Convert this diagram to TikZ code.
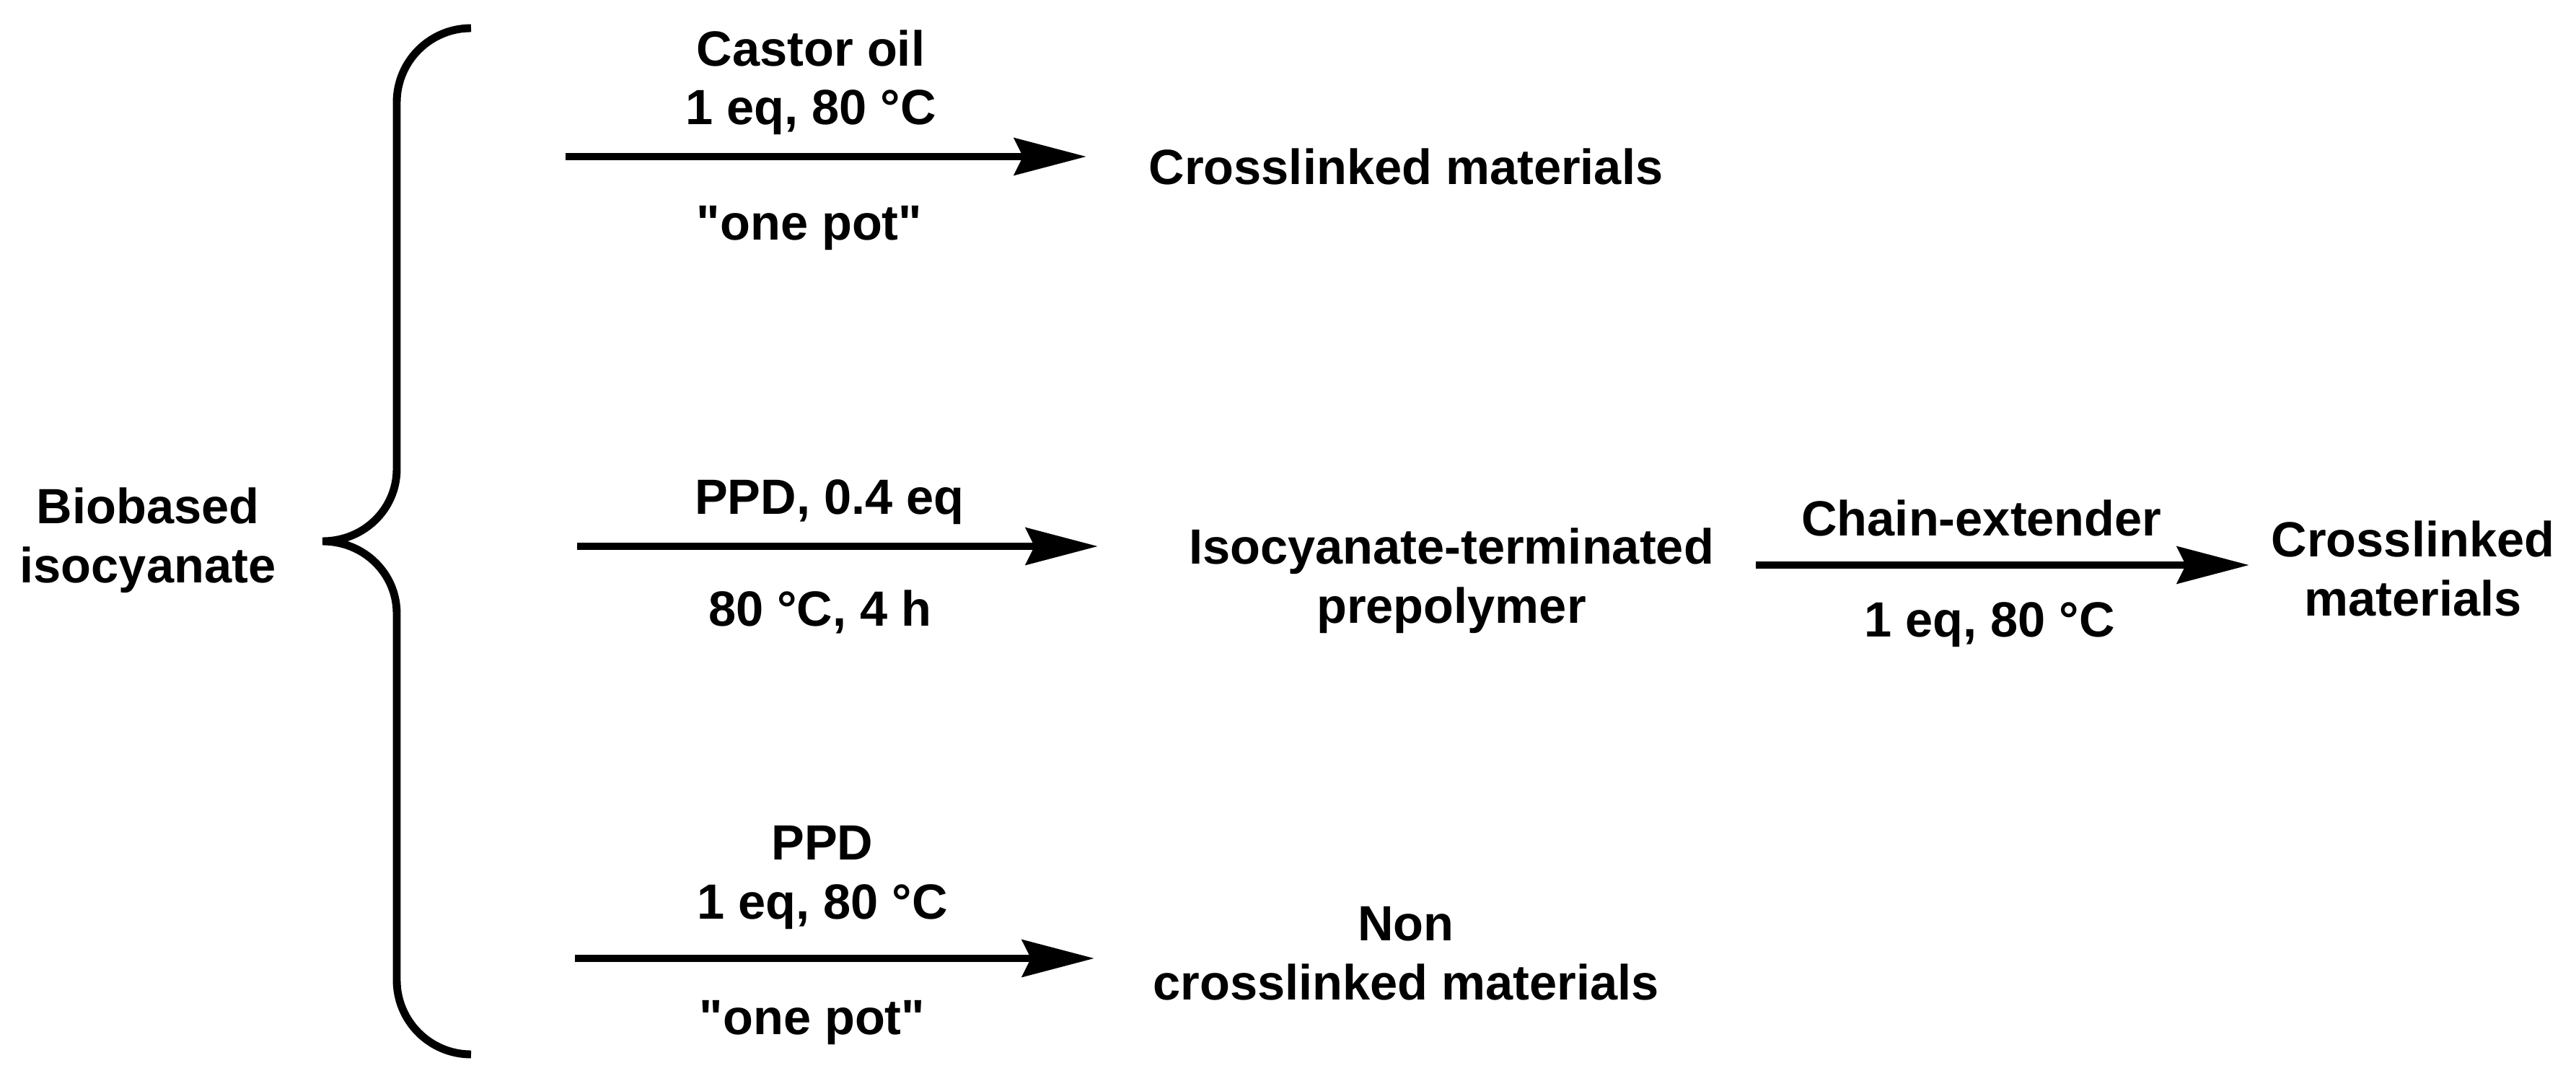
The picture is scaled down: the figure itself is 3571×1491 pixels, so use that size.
\documentclass[tikz,border=0pt]{standalone}
\usepackage{fontspec}
\newfontfamily\lsans{Liberation Sans}
\usetikzlibrary{arrows.meta}
\begin{document}
\begin{tikzpicture}[x=0.01cm,y=-0.01cm,
  txt/.style={font=\lsans\fontsize{19.5}{23.2}\selectfont\bfseries, align=center, anchor=base, inner sep=0pt},
  rxn/.style={line width=3.1pt, -{Stealth[length=28.4pt,width=14.5pt,inset=3.4pt]}},
  bracestyle/.style={line width=3.1pt}]
\useasboundingbox (0,0) rectangle (3571,1491);
% brace
\draw[bracestyle] (653,39) .. controls (596,39) and (550,85) .. (550,142) -- (550,650)
  .. controls (550,705) and (505,750) .. (447,750)
  .. controls (505,750) and (550,795) .. (550,850) -- (550,1358)
  .. controls (550,1415) and (596,1461) .. (653,1461);
% nodes (base = baseline of last line)
\node[txt] (bio) at (205,807) {Biobased\\isocyanate};
\node[txt] (c1) at (1124,173) {Castor oil\\1 eq, 80 °C};
\node[txt] (o1) at (1122,333) {"one pot"};
\node[txt] (p1) at (1949,255) {Crosslinked materials};
\node[txt] (c2) at (1150,712) {PPD, 0.4 eq};
\node[txt] (b2) at (1137,867) {80 °C, 4 h};
\node[txt] (pre) at (2012,863) {Isocyanate-terminated\\prepolymer};
\node[txt] (c3) at (2747,742) {Chain-extender};
\node[txt] (b3) at (2758,882) {1 eq, 80 °C};
\node[txt] (p3) at (3345,853) {Crosslinked\\materials};
\node[txt] (c4) at (1140,1273) {PPD\\1 eq, 80 °C};
\node[txt] (o4) at (1126,1433) {"one pot"};
\node[txt] (p4) at (1949,1385) {Non\\crosslinked materials};
% arrow ends
\coordinate (s1) at (784,217);  \coordinate (e1) at (1506,217);
\coordinate (s2) at (800,757);  \coordinate (e2) at (1522,757);
\coordinate (s3) at (2434,783); \coordinate (e3) at (3118,783);
\coordinate (s4) at (797,1328); \coordinate (e4) at (1517,1328);
\draw[rxn] (s1) -- (e1);
\draw[rxn] (s2) -- (e2);
\draw[rxn] (s3) -- (e3);
\draw[rxn] (s4) -- (e4);
\end{tikzpicture}
\end{document}
